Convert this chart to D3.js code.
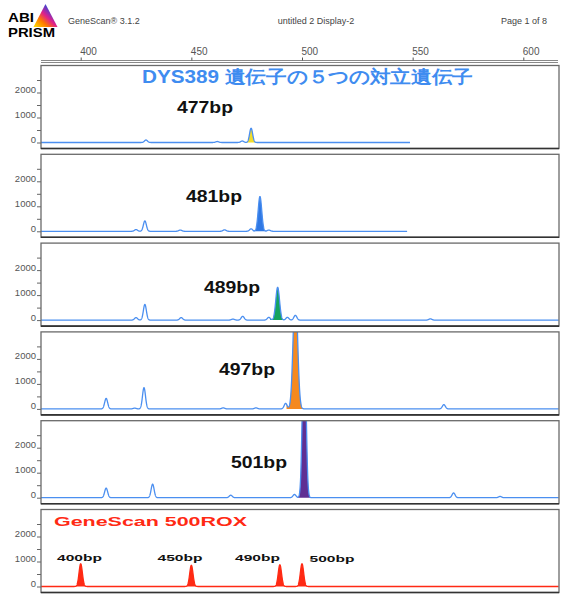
<!DOCTYPE html>
<html>
<head>
<meta charset="utf-8">
<script src="https://cdn.jsdelivr.net/npm/d3@7"></script>
<style>
  body { margin: 0; background: #fff; }
  svg text { font-family: "Liberation Sans", Arial, sans-serif; }
</style>
</head>
<body>
<svg id="chart" width="561" height="597"></svg>
<script>
// ---- Data -------------------------------------------------------------
// Called alleles of the five DYS389 lanes (size in bp, peak height in RFU)
const alleleSizes   = [477, 481, 489, 497, 501];
const alleleHeights = [570, 1390, 1310, 4800, 7000];
const alleleWidths  = [0.7, 0.8, 0.85, 1.0, 0.78];   // peak sigma, bp
const alleleLabels  = ["477bp", "481bp", "489bp", "497bp", "501bp"];
const alleleColors  = ["#f2dc2a", "#2f78e4", "#14a35e", "#f5891f", "#5f2f93"];

// Minor / stutter peaks in each lane: [size bp, height RFU]
const minorPeaks1 = [[429.5, 100], [461.7, 40], [473, 60]];
const minorPeaks2 = [[425, 70], [429, 415], [445, 50], [465, 60], [477, 100], [485, 50]];
const minorPeaks3 = [[425, 100], [429, 625], [445.4, 100], [468.8, 40], [473.2, 150],
                     [485, 110], [493.4, 110], [497, 190], [558, 50]];
const minorPeaks4 = [[411.5, 420], [424.4, 30], [428.6, 850], [464.4, 40], [479.2, 40],
                     [492.6, 220], [564.1, 170]];
const minorPeaks5 = [[411.5, 385], [432.5, 540], [467.8, 100], [496.6, 130],
                     [568.5, 190], [589.5, 50]];
const minorPeaks  = [minorPeaks1, minorPeaks2, minorPeaks3, minorPeaks4, minorPeaks5];
const minorWidth  = 0.68;

// Scanned size range of each lane (bp)
const laneStart = 382;
const laneEnds  = [548.8, 547.5, 616, 616, 616];

// GeneScan 500 ROX size standard fragments
const ladderSizes   = [400, 450, 490, 500];
const ladderHeights = [910, 850, 870, 910];
const ladderLabels  = ["400bp", "450bp", "490bp", "500bp"];
const ladderWidth   = 0.75;

// Axis ticks
const sizeTicks = [400, 450, 500, 550, 600];
const rfuTicks  = [0, 500, 1000, 1500, 2000, 2500];

// ---- Layout -----------------------------------------------------------
const svg = d3.select("#chart");
const panelLeft = 41, panelRight = 559, panelH = 83;
const panelTop = i => 65.5 + i * 88.8;
const traceBlue = "#4b8ff0";

const x = d3.scaleLinear().domain([400, 600]).range([80.7, 523.3]);

// Gaussian peak profile summed over a list of peaks
const gauss = (s, c, h, w) => h * Math.exp(-((s - c) ** 2) / (2 * w * w));
function trace(peaks, start, end) {
  const pts = [];
  for (let s = start; s <= end + 1e-9; s += 0.05) {
    let v = 0;
    peaks.forEach(p => { v += gauss(s, p[0], p[1], p[2]); });
    pts.push([s, v]);
  }
  return pts;
}

// ---- Header -----------------------------------------------------------
const defs = svg.append("defs");
const grad = defs.append("linearGradient").attr("id", "prism")
  .attr("x1", 0).attr("y1", 1).attr("x2", 1).attr("y2", 0);
[["0", "#ffe400"], ["0.3", "#ff7a00"], ["0.5", "#e0208a"], ["0.7", "#5a3cc8"], ["0.85", "#1a8de0"], ["1", "#20c060"]]
  .forEach(([o, c]) => grad.append("stop").attr("offset", o).attr("stop-color", c));
svg.append("path").attr("d", "M45.5,4 L33.5,27 L57.5,27 Z").attr("fill", "url(#prism)");
svg.append("text").attr("x", 8).attr("y", 22.3).attr("font-size", 13).attr("font-weight", 700)
  .attr("textLength", 26).attr("lengthAdjust", "spacingAndGlyphs").text("ABI");
svg.append("text").attr("x", 8).attr("y", 37.3).attr("font-size", 13).attr("font-weight", 700)
  .attr("textLength", 47).attr("lengthAdjust", "spacingAndGlyphs").text("PRISM");

const hdr = svg.append("g").attr("font-size", 9).attr("fill", "#444");
hdr.append("text").attr("x", 68).attr("y", 24).text("GeneScan® 3.1.2");
hdr.append("text").attr("x", 316).attr("y", 24).attr("text-anchor", "middle").text("untitled 2 Display-2");
hdr.append("text").attr("x", 501).attr("y", 24).text("Page 1 of 8");

// ---- Size axis (top) --------------------------------------------------
svg.append("line").attr("x1", 41).attr("x2", 558).attr("y1", 60.5).attr("y2", 60.5)
  .attr("stroke", "#888").attr("stroke-width", 1);
svg.append("line").attr("x1", 41).attr("x2", 558).attr("y1", 62.5).attr("y2", 62.5)
  .attr("stroke", "#888").attr("stroke-width", 1);
const topAxis = svg.append("g").attr("transform", "translate(0,60.5)")
  .call(d3.axisTop(x).tickValues(sizeTicks).tickSize(3).tickPadding(3));
topAxis.select(".domain").remove();
topAxis.selectAll("line").attr("stroke", "#555");
topAxis.selectAll("text").attr("text-anchor", "start").attr("dx", -1)
  .attr("font-family", "Liberation Sans, Arial, sans-serif").attr("font-size", 10).attr("fill", "#555");

// ---- Panels -----------------------------------------------------------
function drawPanel(i, opts) {
  const T = panelTop(i);
  const y = d3.scaleLinear().domain([0, 2000]).range([T + 77, T + 27]);
  const g = svg.append("g");

  g.append("rect").attr("x", panelLeft).attr("y", T).attr("width", panelRight - panelLeft)
    .attr("height", panelH).attr("fill", "#fff");

  const clipId = "clip" + i;
  defs.append("clipPath").attr("id", clipId).append("rect")
    .attr("x", panelLeft).attr("y", T).attr("width", panelRight - panelLeft).attr("height", panelH);
  const plot = g.append("g").attr("clip-path", `url(#${clipId})`);

  const pts = trace(opts.peaks, laneStart, opts.end);
  const area = d3.area().x(d => x(d[0])).y0(y(0)).y1(d => y(d[1]));
  opts.fills.forEach(f => {
    const seg = pts.filter(d => d[0] >= f.c - 4 * f.w && d[0] <= f.c + 4 * f.w);
    plot.append("path").attr("d", area(seg)).attr("fill", f.color);
  });
  plot.append("path").attr("d", d3.line().x(d => x(d[0])).y(d => y(d[1]))(pts))
    .attr("fill", "none").attr("stroke", opts.stroke).attr("stroke-width", 1.3)
    .attr("stroke-linejoin", "round");

  // frame
  g.append("rect").attr("x", panelLeft).attr("y", T).attr("width", panelRight - panelLeft)
    .attr("height", panelH).attr("fill", "none").attr("stroke", "#6a6a6a").attr("stroke-width", 1.3);
  g.append("line").attr("x1", panelLeft).attr("x2", panelRight).attr("y1", T + panelH).attr("y2", T + panelH)
    .attr("stroke", "#333").attr("stroke-width", 1.6);

  // RFU axis
  const ya = g.append("g").attr("transform", `translate(${panelLeft},0)`)
    .call(d3.axisLeft(y).tickValues(rfuTicks).tickSize(4).tickPadding(1)
      .tickFormat(d => d % 1000 === 0 ? d : ""));
  ya.select(".domain").remove();
  ya.selectAll("line").attr("stroke", "#666");
  ya.selectAll("text").attr("dy", 0).attr("font-family", "Liberation Sans, Arial, sans-serif")
    .attr("font-size", 9.5).attr("fill", "#555");
  return { g, y, T };
}

// Sample lanes
const alleleLabelY = [113, 202, 292.5, 375, 468];
const alleleLabelX = [177, 186, 204, 219, 231];
alleleSizes.forEach((size, i) => {
  const peaks = minorPeaks[i].map(p => [p[0], p[1], minorWidth])
    .concat([[size, alleleHeights[i], alleleWidths[i]]]);
  const p = drawPanel(i, {
    peaks, end: laneEnds[i], stroke: traceBlue,
    fills: [{ c: size, w: alleleWidths[i], color: alleleColors[i] }]
  });
  p.g.append("text").attr("x", alleleLabelX[i]).attr("y", alleleLabelY[i])
    .attr("font-size", 16).attr("font-weight", 700).attr("fill", "#111")
    .attr("textLength", 56).attr("lengthAdjust", "spacingAndGlyphs").text(alleleLabels[i]);
});

// Size-standard lane
const ladderPeaks = ladderSizes.map((s, k) => [s, ladderHeights[k], ladderWidth]);
const lp = drawPanel(5, {
  peaks: ladderPeaks, end: 616, stroke: "#ff2a14",
  fills: ladderSizes.map(s => ({ c: s, w: ladderWidth, color: "#ff2a14" }))
});
lp.g.append("text").attr("x", 54).attr("y", lp.T + 16.5)
  .attr("font-size", 12).attr("font-weight", 700).attr("fill", "#ff2a14")
  .attr("textLength", 193).attr("lengthAdjust", "spacingAndGlyphs").text("GeneScan 500ROX");
const ladderLabelX = [57, 157.5, 235, 309.5];
const ladderLabelDy = [0, 0, 0, 1];
ladderLabels.forEach((t, k) => {
  lp.g.append("text").attr("x", ladderLabelX[k]).attr("y", lp.T + 51.5 + ladderLabelDy[k])
    .attr("font-size", 9.5).attr("font-weight", 700).attr("fill", "#111")
    .attr("textLength", 45).attr("lengthAdjust", "spacingAndGlyphs").text(t);
});

// ---- Title ------------------------------------------------------------
svg.append("text").attr("x", 142).attr("y", 83)
  .attr("font-family", "'Noto Sans CJK JP', 'Noto Sans', sans-serif")
  .attr("font-size", 18).attr("font-weight", 700).attr("fill", "#3f8cf0")
  .attr("textLength", 331).attr("lengthAdjust", "spacingAndGlyphs")
  .text("DYS389 遺伝子の５つの対立遺伝子");
</script>
</body>
</html>
